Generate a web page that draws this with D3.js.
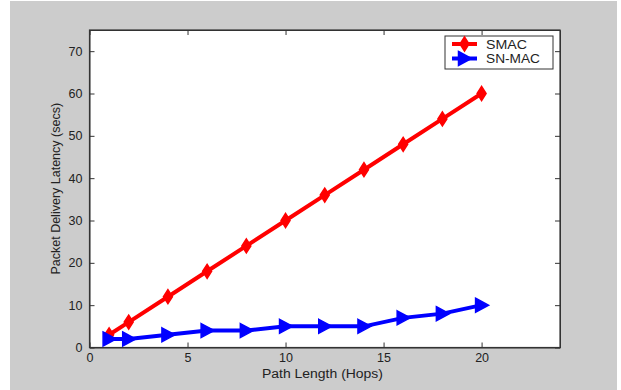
<!DOCTYPE html>
<html>
<head>
<meta charset="utf-8">
<script src="https://cdn.jsdelivr.net/npm/d3@7"></script>
<style>
  body { margin: 0; background: #fff; }
  text { font-family: "Liberation Sans", Arial, sans-serif; fill: #222; }
</style>
</head>
<body>
<div id="chart"></div>
<script>
// data
var hops = [1, 2, 4, 6, 8, 10, 12, 14, 16, 18, 20];
var smacLatency = [3, 6, 12, 18, 24, 30, 36, 42, 48, 54, 60];
var snmacLatency = [2, 2, 3, 4, 4, 5, 5, 5, 7, 8, 10];
var seriesNames = ["SMAC", "SN-MAC"];
var xTicks = [0, 5, 10, 15, 20];
var yTicks = [0, 10, 20, 30, 40, 50, 60, 70];

var width = 621, height = 390;
var plotLeft = 89.5, plotRight = 560, plotTop = 30, plotBottom = 347.5;

var svg = d3.select("#chart").append("svg")
    .attr("width", width)
    .attr("height", height);

// grey figure background
svg.append("rect")
    .attr("x", 10).attr("y", 1)
    .attr("width", 607).attr("height", 389)
    .attr("fill", "#cccccc");

var x = d3.scaleLinear().domain([0, 24]).range([plotLeft, plotRight]);
var y = d3.scaleLinear().domain([0, 75]).range([plotBottom, plotTop]);

svg.append("rect")
    .attr("x", plotLeft).attr("y", plotTop)
    .attr("width", plotRight - plotLeft).attr("height", plotBottom - plotTop)
    .attr("fill", "#fff");

// axes with inward ticks, matlab style
svg.append("g")
    .attr("transform", "translate(0," + plotBottom + ")")
    .call(d3.axisBottom(x).tickValues(xTicks).tickSizeInner(-5).tickSizeOuter(0).tickPadding(6));
svg.append("g")
    .attr("transform", "translate(0," + plotTop + ")")
    .call(d3.axisTop(x).tickValues(xTicks).tickSizeInner(-5).tickSizeOuter(0).tickFormat(""));
svg.append("g")
    .attr("transform", "translate(" + plotLeft + ",0)")
    .call(d3.axisLeft(y).tickValues(yTicks).tickSizeInner(-5).tickSizeOuter(0).tickPadding(7));
svg.append("g")
    .attr("transform", "translate(" + plotRight + ",0)")
    .call(d3.axisRight(y).tickValues(yTicks).tickSizeInner(-5).tickSizeOuter(0).tickFormat(""));

svg.selectAll(".domain").attr("stroke", "#333");
svg.selectAll(".tick line").attr("stroke", "#333");
svg.selectAll(".tick text")
    .style("font-size", "12.5px")
    .style("font-family", "Liberation Sans, Arial, sans-serif")
    .attr("fill", "#222");

// frame
svg.append("rect")
    .attr("x", plotLeft).attr("y", plotTop)
    .attr("width", plotRight - plotLeft).attr("height", plotBottom - plotTop)
    .attr("fill", "none")
    .attr("stroke", "#333")
    .attr("stroke-width", 1.2);

// the original figure is stretched a little horizontally
svg.append("text")
    .attr("x", 262)
    .attr("y", 378)
    .attr("textLength", 121)
    .attr("lengthAdjust", "spacingAndGlyphs")
    .style("font-size", "12.5px")
    .text("Path Length (Hops)");

svg.append("text")
    .attr("transform", "translate(60," + (plotTop + plotBottom) / 2 + ") rotate(-90)")
    .attr("text-anchor", "middle")
    .style("font-size", "12.5px")
    .text("Packet Delivery Latency (secs)");

var line = d3.line()
    .x(function(d) { return x(d[0]); })
    .y(function(d) { return y(d[1]); });

var diamond = "M0,-7L4.5,0L0,7L-4.5,0Z";
var triangle = "M-6,-7L7,0L-6,7Z";

var series = [
    { name: seriesNames[0], color: "#ff0000", marker: diamond, values: d3.zip(hops, smacLatency), labelWidth: 41 },
    { name: seriesNames[1], color: "#0000ff", marker: triangle, values: d3.zip(hops, snmacLatency), labelWidth: 54 }
];

series.forEach(function(s) {
    svg.append("path")
        .datum(s.values)
        .attr("fill", "none")
        .attr("stroke", s.color)
        .attr("stroke-width", 4)
        .attr("d", line);

    svg.selectAll(null)
        .data(s.values)
        .enter().append("path")
        .attr("transform", function(d) { return "translate(" + x(d[0]) + "," + y(d[1]) + ")"; })
        .attr("d", s.marker)
        .attr("fill", s.color)
        .attr("stroke", s.color)
        .attr("stroke-width", 1.5);
});

// legend
var legend = svg.append("g");
legend.append("rect")
    .attr("x", 445).attr("y", 36)
    .attr("width", 108).attr("height", 33)
    .attr("fill", "#fff")
    .attr("stroke", "#333")
    .attr("stroke-width", 1);

series.forEach(function(s, i) {
    var ly = 44 + i * 14.5;
    legend.append("line")
        .attr("x1", 452).attr("x2", 477)
        .attr("y1", ly).attr("y2", ly)
        .attr("stroke", s.color)
        .attr("stroke-width", 4);
    legend.append("path")
        .attr("transform", "translate(464.5," + ly + ")")
        .attr("d", s.marker)
        .attr("fill", s.color)
        .attr("stroke", s.color)
        .attr("stroke-width", 1.5);
    legend.append("text")
        .attr("x", 486)
        .attr("y", ly + 4.5)
        .attr("textLength", s.labelWidth)
        .attr("lengthAdjust", "spacingAndGlyphs")
        .style("font-size", "12.5px")
        .text(s.name);
});
</script>
</body>
</html>
